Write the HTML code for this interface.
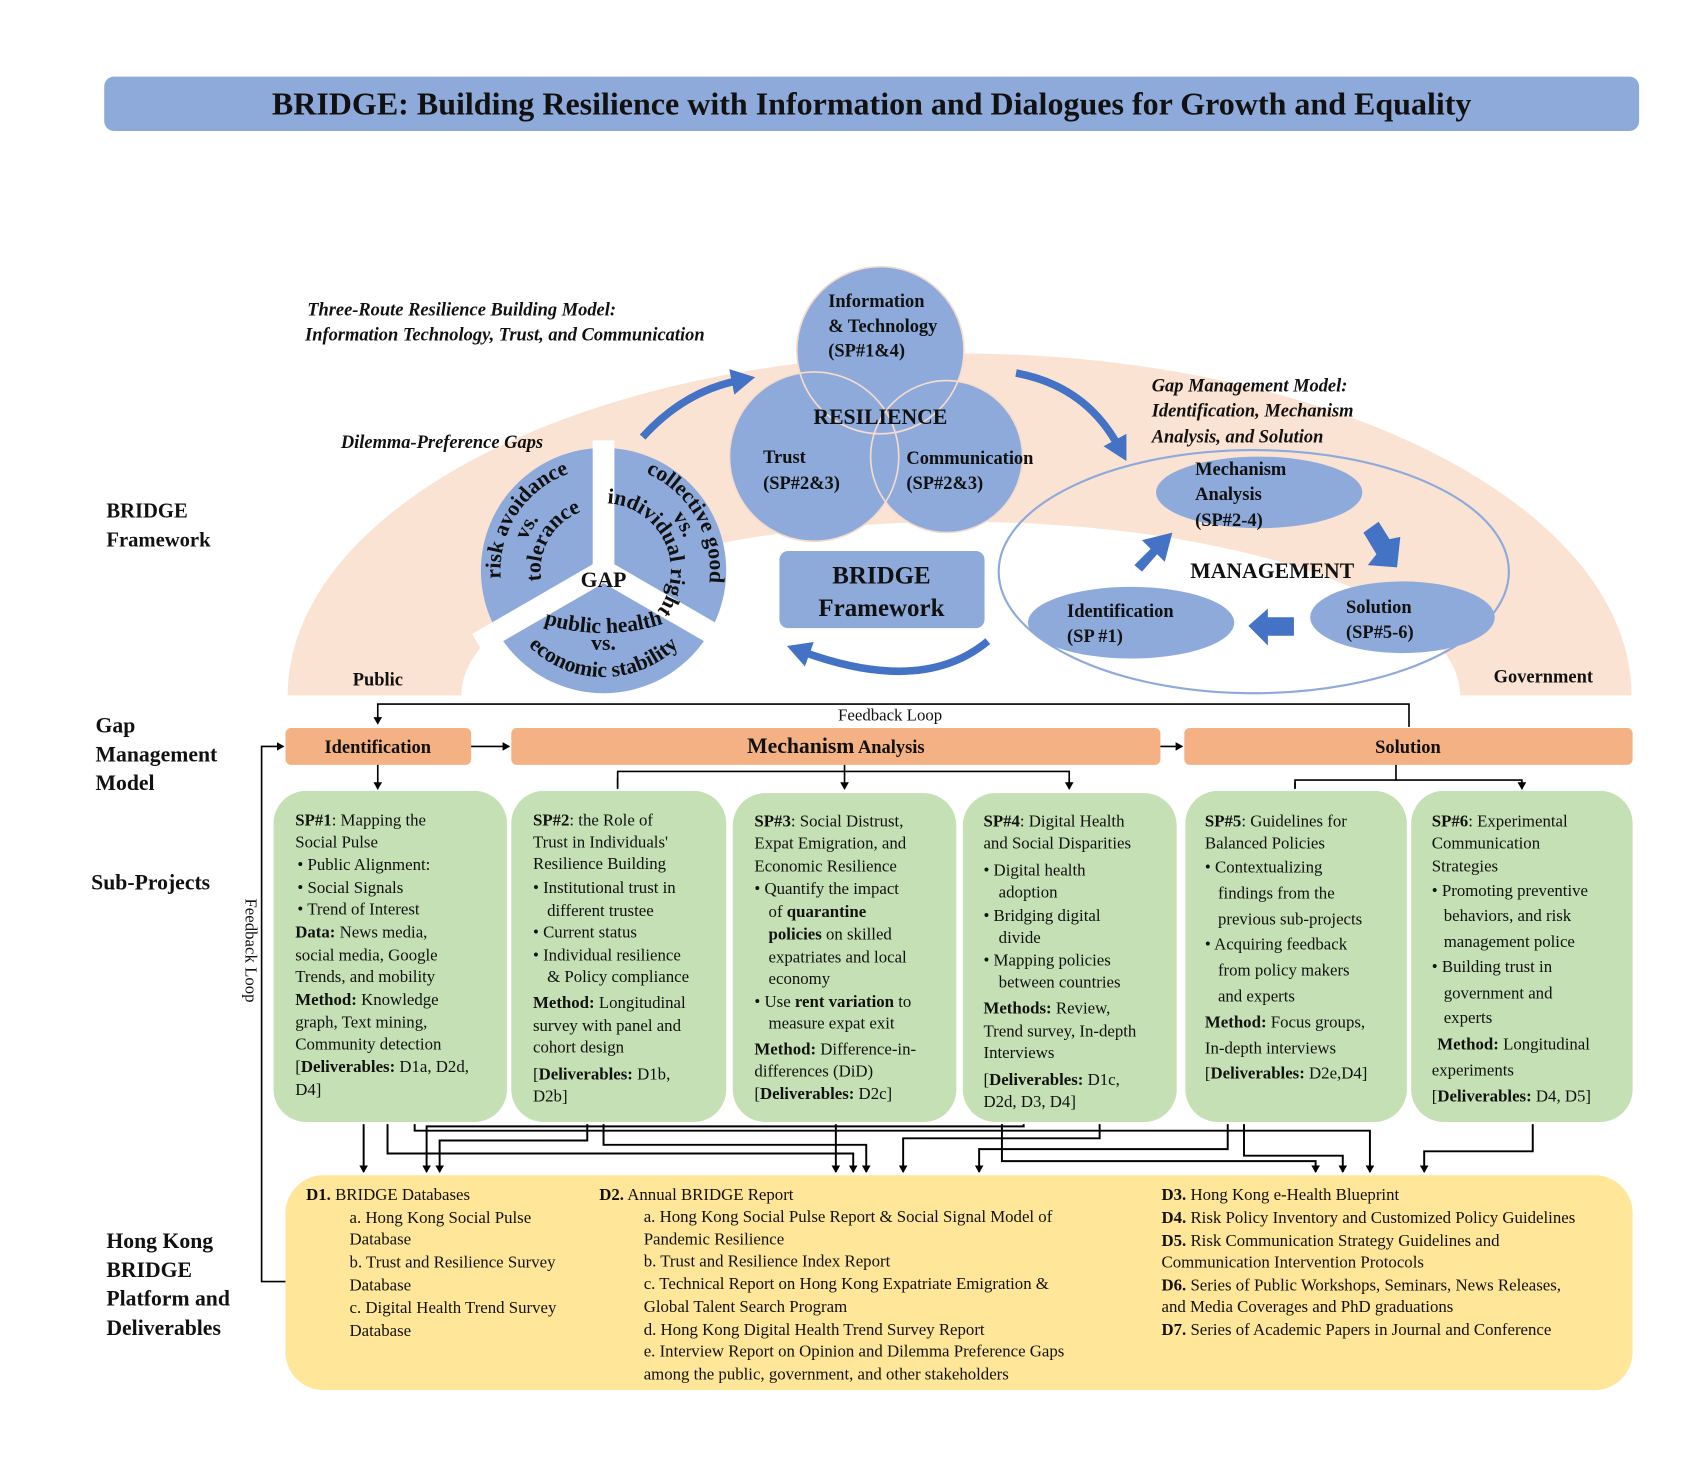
<!DOCTYPE html>
<html><head><meta charset="utf-8"><style>
html,body{margin:0;padding:0;background:#fff}
svg{display:block}
text{font-family:"Liberation Serif",serif;fill:#111}
.b{font-weight:bold}
.bi{font-weight:bold;font-style:italic}
.sp{font-size:15.5px}
.pie{font-size:20px;font-weight:bold}
</style></head><body>
<svg width="1701" height="1482" viewBox="0 0 1567 1364" xmlns="http://www.w3.org/2000/svg">
<defs>
<marker id="ah" markerWidth="8" markerHeight="8" refX="6" refY="4" orient="auto" markerUnits="userSpaceOnUse"><path d="M0,0 L7,4 L0,8 Z" fill="#000"/></marker>
<marker id="bh" markerWidth="30" markerHeight="30" refX="6" refY="12" orient="auto" markerUnits="userSpaceOnUse"><path d="M0,0 L22,12 L0,24 Z" fill="#4472c4"/></marker>
<path id="pl1" d="M467.9,560.6 A95,95 0 0 1 552.7,430.1"/>
<path id="pl2" d="M482.6,544.7 A76,76 0 0 1 536.3,451.6"/>
<path id="pl3" d="M503.4,549.5 A58,58 0 0 1 550.9,467.2"/>
<path id="pr1" d="M573,428.5 A98,98 0 0 1 648.1,558.5"/>
<path id="pr2" d="M576.7,447.7 A80,80 0 0 1 633.3,545.7"/>
<path id="pr3" d="M561.4,463.2 A62,62 0 0 1 606.8,560.6"/>
<path id="pb1" d="M471.1,574 A98,98 0 0 0 640.9,574"/>
<path id="pb3" d="M490,570 A180,180 0 0 0 622,570"/>
</defs>

<rect x="96" y="70" width="1414" height="50" rx="9" fill="#8eaadb"/>
<text x="803" y="105" text-anchor="middle" class="b" font-size="29.5">BRIDGE: Building Resilience with Information and Dialogues for Growth and Equality</text>

<path d="M265,640 A619,315 0 0 1 1503,640 L1345,640 A460,160 0 0 0 425,640 Z" fill="#fbe3d4"/>

<circle cx="811" cy="322" r="77" fill="#8eaadb"/>
<circle cx="750" cy="420" r="78" fill="#8eaadb"/>
<circle cx="872" cy="420" r="70" fill="#8eaadb"/>
<circle cx="811" cy="322" r="77" fill="none" stroke="#f5dccd" stroke-width="1.5"/>
<circle cx="750" cy="420" r="78" fill="none" stroke="#f5dccd" stroke-width="1.5"/>
<circle cx="872" cy="420" r="70" fill="none" stroke="#f5dccd" stroke-width="1.5"/>
<text x="763" y="282" class="b" font-size="17">Information</text>
<text x="763" y="305" class="b" font-size="17">&amp; Technology</text>
<text x="763" y="328" class="b" font-size="17">(SP#1&amp;4)</text>
<text x="811" y="390" class="b" font-size="20" text-anchor="middle">RESILIENCE</text>
<text x="703" y="426" class="b" font-size="17">Trust</text>
<text x="703" y="450" class="b" font-size="17">(SP#2&amp;3)</text>
<text x="835" y="427" class="b" font-size="17">Communication</text>
<text x="835" y="450" class="b" font-size="17">(SP#2&amp;3)</text>

<text x="283" y="290" class="bi" font-size="17">Three-Route Resilience Building Model:</text>
<text x="281" y="313" class="bi" font-size="17">Information Technology, Trust, and Communication</text>
<text x="314" y="412" class="bi" font-size="17">Dilemma-Preference Gaps</text>
<text x="1061" y="360" class="bi" font-size="17">Gap Management Model:</text>
<text x="1061" y="383" class="bi" font-size="17">Identification, Mechanism</text>
<text x="1061" y="407" class="bi" font-size="17">Analysis, and Solution</text>

<path d="M592,402 Q630,360 680,350" fill="none" stroke="#4472c4" stroke-width="7" marker-end="url(#bh)"/>
<path d="M936,343 Q1000,355 1030,410" fill="none" stroke="#4472c4" stroke-width="7" marker-end="url(#bh)"/>
<path d="M910,590 Q850,640 740,600" fill="none" stroke="#4472c4" stroke-width="7" marker-end="url(#bh)"/>

<circle cx="556" cy="525" r="113" fill="#8eaadb"/>
<line x1="556" y1="525" x2="556" y2="405" stroke="#fff" stroke-width="20"/>
<line x1="556" y1="525" x2="440" y2="592" stroke="#fff" stroke-width="20"/>
<line x1="556" y1="525" x2="672" y2="592" stroke="#fff" stroke-width="20"/>
<text class="pie" text-anchor="middle"><textPath href="#pl1" startOffset="50%">risk avoidance</textPath></text>
<text class="pie" text-anchor="middle"><textPath href="#pl2" startOffset="50%">vs.</textPath></text>
<text class="pie" text-anchor="middle"><textPath href="#pl3" startOffset="50%">tolerance</textPath></text>
<text class="pie" text-anchor="middle"><textPath href="#pr1" startOffset="50%">collective good</textPath></text>
<text class="pie" text-anchor="middle"><textPath href="#pr2" startOffset="50%">vs.</textPath></text>
<text class="pie" font-size="18" text-anchor="middle"><textPath href="#pr3" startOffset="50%">individual right</textPath></text>
<text class="pie" font-size="18" text-anchor="middle"><textPath href="#pb1" startOffset="50%">economic stability</textPath></text>
<text class="pie" font-size="18" x="556" y="598" text-anchor="middle">vs.</text>
<text class="pie" font-size="18" text-anchor="middle"><textPath href="#pb3" startOffset="50%">public health</textPath></text>
<text class="pie" x="556" y="540" text-anchor="middle">GAP</text>

<rect x="718" y="507" width="189" height="71" rx="8" fill="#8eaadb"/>
<text x="812" y="537" class="b" font-size="23" text-anchor="middle">BRIDGE</text>
<text x="812" y="567" class="b" font-size="23" text-anchor="middle">Framework</text>

<ellipse cx="1155" cy="526" rx="235" ry="112" fill="none" stroke="#8eaadb" stroke-width="2"/>
<ellipse cx="1160" cy="453" rx="95" ry="33" fill="#8eaadb"/>
<ellipse cx="1042" cy="573" rx="95" ry="33" fill="#8eaadb"/>
<ellipse cx="1292" cy="568" rx="85" ry="33" fill="#8eaadb"/>
<text x="1101" y="437" class="b" font-size="17">Mechanism</text>
<text x="1101" y="460" class="b" font-size="17">Analysis</text>
<text x="1101" y="484" class="b" font-size="17">(SP#2-4)</text>
<text x="983" y="568" class="b" font-size="17">Identification</text>
<text x="983" y="591" class="b" font-size="17">(SP #1)</text>
<text x="1240" y="564" class="b" font-size="17">Solution</text>
<text x="1240" y="587" class="b" font-size="17">(SP#5-6)</text>
<text x="1172" y="532" class="b" font-size="20" text-anchor="middle">MANAGEMENT</text>
<polygon points="1045,520 1060,505 1052,497 1080,490 1073,517 1066,510 1052,526" fill="#4472c4"/>
<polygon points="1256,490 1270,480 1280,496 1290,494 1287,522 1260,520 1268,510" fill="#4472c4"/>
<polygon points="1150,576 1168,560 1168,568 1192,568 1192,585 1168,585 1168,594" fill="#4472c4"/>

<text x="98" y="476" class="b" font-size="19">BRIDGE</text>
<text x="98" y="503" class="b" font-size="19">Framework</text>
<text x="325" y="631" class="b" font-size="17">Public</text>
<text x="1376" y="628" class="b" font-size="17">Government</text>

<polyline points="1298,669 1298,648 348,648 348,666" fill="none" stroke="#000" stroke-width="1.5" marker-end="url(#ah)"/>
<rect x="764" y="649" width="112" height="18" fill="#fff"/>
<text x="820" y="663" font-size="15.5" text-anchor="middle">Feedback Loop</text>

<rect x="263" y="670" width="171" height="34" rx="5" fill="#f4b183"/>
<rect x="471" y="670" width="598" height="34" rx="5" fill="#f4b183"/>
<rect x="1091" y="670" width="413" height="34" rx="5" fill="#f4b183"/>
<text x="348" y="693" class="b" font-size="17" text-anchor="middle">Identification</text>
<text x="770" y="693" text-anchor="middle"><tspan class="b" font-size="20">Mechanism</tspan><tspan class="b" font-size="17"> Analysis</tspan></text>
<text x="1297" y="693" class="b" font-size="17" text-anchor="middle">Solution</text>
<line x1="434" y1="687" x2="469" y2="687" stroke="#000" stroke-width="1.5" marker-end="url(#ah)"/>
<line x1="1069" y1="687" x2="1089" y2="687" stroke="#000" stroke-width="1.5" marker-end="url(#ah)"/>

<text x="88" y="674" class="b" font-size="20">Gap</text>
<text x="88" y="701" class="b" font-size="20">Management</text>
<text x="88" y="727" class="b" font-size="20">Model</text>

<polyline points="263,1180 241,1180 241,687 261,687" fill="none" stroke="#000" stroke-width="1.5" marker-end="url(#ah)"/>
<text transform="translate(226,875) rotate(90)" font-size="15.5" text-anchor="middle">Feedback Loop</text>

<line x1="348" y1="704" x2="348" y2="726" stroke="#000" stroke-width="1.5" marker-end="url(#ah)"/>
<line x1="778" y1="704" x2="778" y2="726" stroke="#000" stroke-width="1.5" marker-end="url(#ah)"/>
<polyline points="569,726 569,710 985,710 985,726" fill="none" stroke="#000" stroke-width="1.5"/>
<path d="M569,716 L569,726 M985,716 L985,726" stroke="#000" stroke-width="1.5" marker-end="url(#ah)"/>
<line x1="1286" y1="704" x2="1286" y2="718" stroke="#000" stroke-width="1.5"/>
<polyline points="1193,726 1193,718 1402,718 1402,726" fill="none" stroke="#000" stroke-width="1.5"/>
<path d="M1193,720 L1193,726 M1402,720 L1402,726" stroke="#000" stroke-width="1.5" marker-end="url(#ah)"/>

<text x="84" y="819" class="b" font-size="20">Sub-Projects</text>

<g fill="#c5e0b4">
<rect x="252" y="728" width="215" height="305" rx="30"/>
<rect x="471" y="728" width="198" height="305" rx="30"/>
<rect x="675" y="730" width="206" height="303" rx="30"/>
<rect x="887" y="730" width="197" height="303" rx="30"/>
<rect x="1092" y="728" width="204" height="305" rx="30"/>
<rect x="1300" y="728" width="204" height="305" rx="30"/>
</g>

<g class="sp">
<text x="272" y="760" class="sp"><tspan class="b">SP#1</tspan>: Mapping the</text>
<text x="272" y="780" class="sp">Social Pulse</text>
<text x="274" y="801" class="sp">•  Public Alignment:</text>
<text x="274" y="822" class="sp">•  Social Signals</text>
<text x="274" y="842" class="sp">•  Trend of Interest</text>
<text x="272" y="863" class="sp"><tspan class="b">Data:</tspan> News media,</text>
<text x="272" y="884" class="sp">social media, Google</text>
<text x="272" y="904" class="sp">Trends, and mobility</text>
<text x="272" y="925" class="sp"><tspan class="b">Method:</tspan> Knowledge</text>
<text x="272" y="946" class="sp">graph, Text mining,</text>
<text x="272" y="966" class="sp">Community detection</text>
<text x="272" y="987" class="sp">[<tspan class="b">Deliverables:</tspan> D1a, D2d,</text>
<text x="272" y="1008" class="sp">D4]</text>

<text x="491" y="760" class="sp"><tspan class="b">SP#2</tspan>: the Role of</text>
<text x="491" y="780" class="sp">Trust in Individuals'</text>
<text x="491" y="800" class="sp">Resilience Building</text>
<text x="491" y="822" class="sp">•  Institutional trust in</text>
<text x="504" y="843" class="sp">different trustee</text>
<text x="491" y="863" class="sp">•  Current status</text>
<text x="491" y="884" class="sp">•  Individual resilience</text>
<text x="504" y="904" class="sp">&amp; Policy compliance</text>
<text x="491" y="928" class="sp"><tspan class="b">Method:</tspan> Longitudinal</text>
<text x="491" y="949" class="sp">survey with panel and</text>
<text x="491" y="969" class="sp">cohort design</text>
<text x="491" y="994" class="sp">[<tspan class="b">Deliverables:</tspan> D1b,</text>
<text x="491" y="1014" class="sp">D2b]</text>

<text x="695" y="761" class="sp"><tspan class="b">SP#3</tspan>: Social Distrust,</text>
<text x="695" y="781" class="sp">Expat Emigration, and</text>
<text x="695" y="802" class="sp">Economic Resilience</text>
<text x="695" y="823" class="sp">•  Quantify the impact</text>
<text x="708" y="844" class="sp">of <tspan class="b">quarantine</tspan></text>
<text x="708" y="865" class="sp"><tspan class="b">policies</tspan> on skilled</text>
<text x="708" y="886" class="sp">expatriates and local</text>
<text x="708" y="906" class="sp">economy</text>
<text x="695" y="927" class="sp">•  Use <tspan class="b">rent variation</tspan> to</text>
<text x="708" y="947" class="sp">measure expat exit</text>
<text x="695" y="971" class="sp"><tspan class="b">Method:</tspan> Difference-in-</text>
<text x="695" y="991" class="sp">differences (DiD)</text>
<text x="695" y="1012" class="sp">[<tspan class="b">Deliverables:</tspan> D2c]</text>

<text x="906" y="761" class="sp"><tspan class="b">SP#4</tspan>: Digital Health</text>
<text x="906" y="781" class="sp">and Social Disparities</text>
<text x="906" y="806" class="sp">•  Digital health</text>
<text x="920" y="826" class="sp">adoption</text>
<text x="906" y="848" class="sp">•  Bridging digital</text>
<text x="920" y="868" class="sp">divide</text>
<text x="906" y="889" class="sp">•  Mapping policies</text>
<text x="920" y="909" class="sp">between countries</text>
<text x="906" y="933" class="sp"><tspan class="b">Methods:</tspan> Review,</text>
<text x="906" y="954" class="sp">Trend survey, In-depth</text>
<text x="906" y="974" class="sp">Interviews</text>
<text x="906" y="999" class="sp">[<tspan class="b">Deliverables:</tspan> D1c,</text>
<text x="906" y="1019" class="sp">D2d, D3, D4]</text>

<text x="1110" y="761" class="sp"><tspan class="b">SP#5</tspan>: Guidelines for</text>
<text x="1110" y="781" class="sp">Balanced Policies</text>
<text x="1110" y="803" class="sp">•  Contextualizing</text>
<text x="1122" y="827" class="sp">findings from the</text>
<text x="1122" y="851" class="sp">previous sub-projects</text>
<text x="1110" y="874" class="sp">•  Acquiring feedback</text>
<text x="1122" y="898" class="sp">from policy makers</text>
<text x="1122" y="922" class="sp">and experts</text>
<text x="1110" y="946" class="sp"><tspan class="b">Method:</tspan> Focus groups,</text>
<text x="1110" y="970" class="sp">In-depth interviews</text>
<text x="1110" y="993" class="sp">[<tspan class="b">Deliverables:</tspan> D2e,D4]</text>

<text x="1319" y="761" class="sp"><tspan class="b">SP#6</tspan>: Experimental</text>
<text x="1319" y="781" class="sp">Communication</text>
<text x="1319" y="802" class="sp">Strategies</text>
<text x="1319" y="825" class="sp">•  Promoting preventive</text>
<text x="1330" y="848" class="sp">behaviors, and risk</text>
<text x="1330" y="872" class="sp">management police</text>
<text x="1319" y="895" class="sp">•  Building trust in</text>
<text x="1330" y="919" class="sp">government and</text>
<text x="1330" y="942" class="sp">experts</text>
<text x="1324" y="966" class="sp"><tspan class="b">Method:</tspan> Longitudinal</text>
<text x="1319" y="990" class="sp">experiments</text>
<text x="1319" y="1014" class="sp">[<tspan class="b">Deliverables:</tspan> D4, D5]</text>
</g>

<rect x="263" y="1082" width="1241" height="198" rx="35" fill="#ffe699"/>

<g fill="none" stroke="#000" stroke-width="1.8" marker-end="url(#ah)">
<polyline points="335,1035 335,1079"/>
<polyline points="357,1035 357,1062 786,1062 786,1079"/>
<polyline points="382,1035 382,1041 1262,1041 1262,1079"/>
<polyline points="541,1035 541,1050 405,1050 405,1079"/>
<polyline points="556,1035 556,1054 798,1054 798,1079"/>
<polyline points="943,1035 943,1037 393,1037 393,1079"/>
<polyline points="770,1035 770,1079"/>
<polyline points="1013,1035 1013,1048 832,1048 832,1079"/>
<polyline points="923,1035 923,1069 1212,1069 1212,1079"/>
<polyline points="1131,1035 1131,1058 902,1058 902,1079"/>
<polyline points="1146,1035 1146,1064 1237,1064 1237,1079"/>
<polyline points="1412,1035 1412,1060 1312,1060 1312,1079"/>
</g>

<g class="sp">
<text x="282" y="1105" class="sp"><tspan class="b">D1.</tspan> BRIDGE Databases</text>
<text x="322" y="1126" class="sp">a. Hong Kong Social Pulse</text>
<text x="322" y="1146" class="sp">Database</text>
<text x="322" y="1167" class="sp">b. Trust and Resilience Survey</text>
<text x="322" y="1188" class="sp">Database</text>
<text x="322" y="1209" class="sp">c. Digital Health Trend Survey</text>
<text x="322" y="1230" class="sp">Database</text>

<text x="552" y="1105" class="sp"><tspan class="b">D2.</tspan> Annual BRIDGE Report</text>
<text x="593" y="1125" class="sp">a. Hong Kong Social Pulse Report &amp; Social Signal Model of</text>
<text x="593" y="1146" class="sp">Pandemic Resilience</text>
<text x="593" y="1166" class="sp">b. Trust and Resilience Index Report</text>
<text x="593" y="1187" class="sp">c. Technical Report on Hong Kong Expatriate Emigration &amp;</text>
<text x="593" y="1208" class="sp">Global Talent Search Program</text>
<text x="593" y="1229" class="sp">d. Hong Kong Digital Health Trend Survey Report</text>
<text x="593" y="1249" class="sp">e. Interview Report on Opinion and Dilemma Preference Gaps</text>
<text x="593" y="1270" class="sp">among the public, government, and other stakeholders</text>

<text x="1070" y="1105" class="sp"><tspan class="b">D3.</tspan> Hong Kong e-Health Blueprint</text>
<text x="1070" y="1126" class="sp"><tspan class="b">D4.</tspan> Risk Policy Inventory and Customized Policy Guidelines</text>
<text x="1070" y="1147" class="sp"><tspan class="b">D5.</tspan> Risk Communication Strategy Guidelines and</text>
<text x="1070" y="1167" class="sp">Communication Intervention Protocols</text>
<text x="1070" y="1188" class="sp"><tspan class="b">D6.</tspan> Series of Public Workshops, Seminars, News Releases,</text>
<text x="1070" y="1208" class="sp">and Media Coverages and PhD graduations</text>
<text x="1070" y="1229" class="sp"><tspan class="b">D7.</tspan> Series of Academic Papers in Journal and Conference</text>
</g>

<text x="98" y="1149" class="b" font-size="20">Hong Kong</text>
<text x="98" y="1176" class="b" font-size="20">BRIDGE</text>
<text x="98" y="1202" class="b" font-size="20">Platform and</text>
<text x="98" y="1229" class="b" font-size="20">Deliverables</text>
</svg>
</body></html>
